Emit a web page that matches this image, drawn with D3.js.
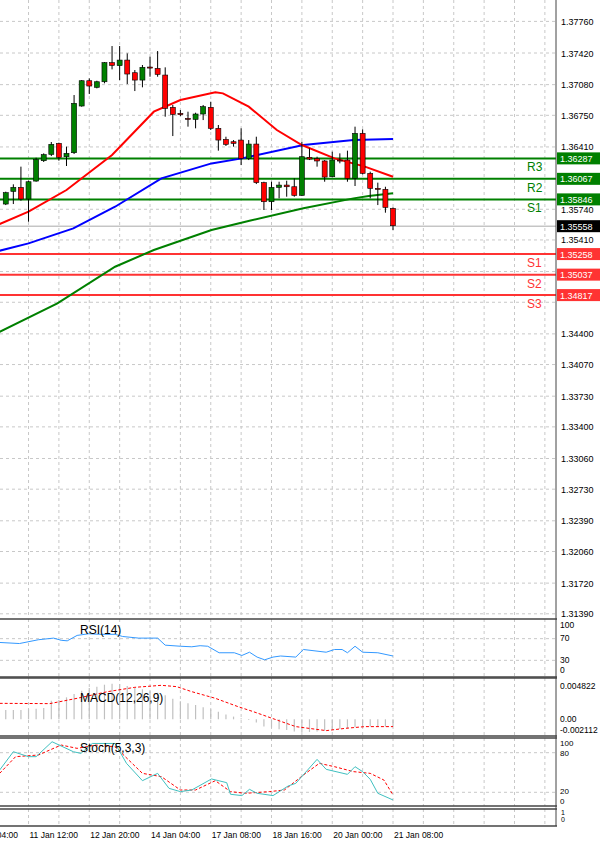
<!DOCTYPE html>
<html><head><meta charset="utf-8">
<script src="https://cdn.jsdelivr.net/npm/d3@7"></script>
<style>body{margin:0;background:#fff}svg{display:block;font-family:"Liberation Sans",Arial,sans-serif}</style>
</head><body><svg width="600" height="847"></svg>
<script>
// OHLC, H4 bars
var opens  = [1.35796,1.35932,1.35975,1.3585,1.36043,1.36262,1.3633,1.36448,1.36305,1.36348,1.3685,1.37122,1.37051,1.37111,1.37316,1.37284,1.37344,1.37208,1.37129,1.37269,1.37255,1.37183,1.36836,1.36771,1.36717,1.36706,1.36764,1.36836,1.3661,1.36491,1.36466,1.36484,1.36287,1.36441,1.36026,1.35821,1.35975,1.36,1.35982,1.35889,1.36298,1.36284,1.36259,1.3609,1.36269,1.36269,1.36072,1.36556,1.36126,1.35965,1.35954,1.35749];
var highs  = [1.35929,1.36008,1.36198,1.36047,1.36294,1.36341,1.36463,1.36456,1.36413,1.36968,1.37129,1.37147,1.37122,1.37323,1.37495,1.37495,1.37416,1.37237,1.37291,1.3738,1.37441,1.37266,1.36861,1.36807,1.36789,1.36778,1.36861,1.36896,1.36646,1.3652,1.36484,1.3661,1.36484,1.3652,1.36036,1.36036,1.36036,1.36047,1.36072,1.36466,1.36395,1.36305,1.36269,1.36359,1.36341,1.3637,1.36628,1.36599,1.36144,1.36026,1.35982,1.3576];
var lows   = [1.35785,1.35796,1.35832,1.35606,1.36036,1.36248,1.36312,1.36262,1.36205,1.36334,1.36843,1.36979,1.3704,1.37094,1.37244,1.37129,1.37086,1.37011,1.37051,1.37165,1.37165,1.36735,1.36527,1.36742,1.36628,1.3661,1.36699,1.36592,1.3637,1.3642,1.36413,1.36215,1.36269,1.36011,1.35732,1.35732,1.35857,1.35875,1.35875,1.35882,1.36269,1.36198,1.36036,1.36083,1.36234,1.36036,1.3599,1.36115,1.35857,1.35785,1.35703,1.35517];
var closes = [1.35918,1.35975,1.3585,1.36036,1.36276,1.36327,1.36438,1.36298,1.36341,1.36879,1.37122,1.37065,1.37111,1.37316,1.37287,1.37344,1.37194,1.37129,1.37266,1.37258,1.3719,1.36825,1.3676,1.36757,1.36706,1.36764,1.36843,1.3661,1.36484,1.36438,1.36448,1.36287,1.36441,1.36026,1.35821,1.35975,1.36,1.35982,1.35889,1.36305,1.3628,1.36259,1.36086,1.36269,1.36259,1.36072,1.36556,1.36126,1.35965,1.35954,1.3576,1.35563];

// moving averages (bar index, value)
var maRedIdx = [-0.8,3,8,14,19.5,23,27.6,28.6,32,35.7,39,43.3,47.3,51];
var maRedVal = [1.35581,1.35714,1.35947,1.36323,1.36789,1.36914,1.36997,1.36986,1.36843,1.36592,1.36431,1.36287,1.36198,1.3609];
var maBlueIdx = [-0.8,3,8.9,14.4,20.5,27.1,31.1,39.2,45.8,51];
var maBlueVal = [1.35294,1.35373,1.35534,1.35767,1.36072,1.36233,1.36287,1.36431,1.36484,1.36495];
var maGreenIdx = [-0.8,6.8,14.4,19.5,27.1,32.1,39.2,45.8,47.8,51];
var maGreenVal = [1.34423,1.34728,1.35122,1.35302,1.35517,1.35617,1.3575,1.35857,1.35882,1.35911];

var resistNames = ["R3","R2","S1"], resistVals = [1.36287,1.36067,1.35846];
var supportNames = ["S1","S2","S3"], supportVals = [1.35258,1.35037,1.34817];
var lastPrice = 1.35558;

var priceTicks = [1.3776,1.3742,1.3708,1.3675,1.3641,1.3607,1.3574,1.3541,1.3507,1.3474,1.344,1.3407,1.3373,1.334,1.3306,1.3273,1.3239,1.3206,1.3172,1.3139];

var rsiIdx = [-0.8,1.8,4.3,6.3,7.3,8.1,9.4,10.9,12.4,14.4,15.4,17.5,20,21,23,24.5,25.6,26.6,28.1,30.1,31.1,32.1,33.1,34.1,35.2,36.2,38.2,39.2,42.2,43.3,44.3,45,46,47,49,51];
var rsiVal = [63,61,68,71,67,66,76,79,78,78,74,71,71,58,56,55,57,56,44,44,39,45,36,31,36,38,36,50,45,50,50,44,56,45,44,38];

var macdHist = [0.00135,0.00135,0.00135,0.00145,0.00154,0.00164,0.0027,0.0028,0.00318,0.00366,0.00415,0.00453,0.00473,0.00501,0.00516,0.00511,0.00482,0.00453,0.00434,0.00405,0.00386,0.00347,0.00299,0.0026,0.00231,0.00207,0.00174,0.00145,0.00111,0.00068,0.00039,0.00014,-0.0001,-0.00048,-0.00106,-0.00121,-0.00145,-0.00154,-0.00178,-0.00183,-0.00183,-0.00178,-0.00164,-0.00154,-0.0014,-0.0013,-0.00116,-0.00106,-0.00106,-0.00106,-0.00106,-0.00106];
var macdSigIdx = [-0.8,5.8,9.4,13.4,17,20.5,22.5,24.5,27.6,30.6,32.6,35.7,38.2,42.2,44.8,47.3,51];
var macdSigVal = [0.00231,0.00227,0.00304,0.004,0.00463,0.00492,0.00473,0.004,0.00304,0.00183,0.00111,-0.0001,-0.00106,-0.00164,-0.0013,-0.00106,-0.00106];

var stochIdx = [-0.8,1,3,4,6.1,8.9,9.9,11.4,14.4,15.9,18,20,21.5,23,24.5,27.1,29.1,29.6,31.1,32.1,33.1,35.2,37.2,38.2,41,42.2,45,46,47,48,49,51];
var stochVal = [53.8,81.5,74,74,96.6,81.5,79,94,94,63.9,37.6,48.7,26,21,23.5,40.2,34.6,17,15,24.5,18.5,15,29.6,33.6,69.9,54.8,47.2,58.8,51.3,39.7,18.5,8.4];
var stochSigIdx = [-0.8,1.3,4.3,7.3,9.4,11.9,14.4,18,20.5,23,25,27.6,29.6,31.6,34.7,36.7,39.2,41.3,43.3,45.8,48,49.8,51];
var stochSigVal = [48.7,74,76.5,91.6,86.6,91.6,89,48.7,43.7,23.5,23.5,37.6,21,18.5,21,23.5,46.2,63.9,58.8,51.3,48.7,38.6,16];

var timeIdx = [-5,3,11,19,27,35,43,51];
var timeLabels = ["10 Jan 04:00","11 Jan 12:00","12 Jan 20:00","14 Jan 04:00","17 Jan 08:00","18 Jan 16:00","20 Jan 00:00","21 Jan 08:00"];

var svg = d3.select("svg"),
    axisX = 556,
    gridCol = "#c8c8c8",
    green = "#008000",
    red = "#ff3333";

var x = d3.scaleLinear().domain([0, 51]).range([5.75, 393]);
var y = d3.scaleLinear().domain([1.3799, 1.3139]).range([0, 613.8]);

// panels: [top, bottom]
var panels = [[0, 617], [619, 677], [678, 736], [738, 806], [809, 826]];

svg.append("defs").append("clipPath").attr("id", "plot")
    .append("rect").attr("width", axisX).attr("height", 847);

// vertical grid
var vgrid = d3.range(-1, 80, 4).filter(function (i) { return x(i) > 0 && x(i) < axisX; });
panels.forEach(function (p) {
    svg.append("g").selectAll("line").data(vgrid).enter().append("line")
        .attr("x1", x).attr("x2", x).attr("y1", p[0]).attr("y2", p[1])
        .attr("stroke", gridCol).attr("stroke-dasharray", "3,3");
});

var boxVals = resistVals.concat(supportVals).concat([lastPrice]);

// horizontal price grid + labels (labels under a box are hidden, as in the original)
svg.append("g").selectAll("line").data(priceTicks).enter().append("line")
    .attr("x1", 0).attr("x2", axisX).attr("y1", y).attr("y2", y)
    .attr("stroke", gridCol).attr("stroke-dasharray", "3,3");
svg.append("g").selectAll("text")
    .data(priceTicks.filter(function (t) {
        return boxVals.every(function (b) { return Math.abs(y(b) - y(t)) > 9; });
    }))
    .enter().append("text")
    .attr("x", 561).attr("y", function (d) { return y(d) + 3.5; })
    .attr("font-size", 9).attr("fill", "#000")
    .text(function (d) { return d.toFixed(5); });

var plot = svg.append("g").attr("clip-path", "url(#plot)");

// level lines
plot.selectAll(".res").data(resistVals).enter().append("line")
    .attr("x1", 0).attr("x2", axisX).attr("y1", y).attr("y2", y)
    .attr("stroke", green).attr("stroke-width", 2);
plot.selectAll(".sup").data(supportVals).enter().append("line")
    .attr("x1", 0).attr("x2", axisX).attr("y1", y).attr("y2", y)
    .attr("stroke", red).attr("stroke-width", 2);
plot.append("line").attr("x1", 0).attr("x2", axisX)
    .attr("y1", y(lastPrice)).attr("y2", y(lastPrice)).attr("stroke", "#aaa");

// moving averages
var maLine = function (idx, val) {
    return d3.line().x(function (d, i) { return x(idx[i]); }).y(function (d) { return y(d); })(val);
};
plot.append("path").attr("d", maLine(maGreenIdx, maGreenVal)).attr("fill", "none").attr("stroke", green).attr("stroke-width", 2);
plot.append("path").attr("d", maLine(maBlueIdx, maBlueVal)).attr("fill", "none").attr("stroke", "#0000ff").attr("stroke-width", 2);
plot.append("path").attr("d", maLine(maRedIdx, maRedVal)).attr("fill", "none").attr("stroke", "#ff0000").attr("stroke-width", 2);

// candles
var bars = plot.append("g").selectAll("g").data(opens).enter().append("g");
bars.append("line")
    .attr("x1", function (d, i) { return x(i); }).attr("x2", function (d, i) { return x(i); })
    .attr("y1", function (d, i) { return y(highs[i]); }).attr("y2", function (d, i) { return y(lows[i]); })
    .attr("stroke", "#000");
bars.append("rect")
    .attr("x", function (d, i) { return x(i) - 2.5; }).attr("width", 5)
    .attr("y", function (d, i) { return y(Math.max(d, closes[i])); })
    .attr("height", function (d, i) { return Math.max(1, Math.abs(y(d) - y(closes[i]))); })
    .attr("fill", function (d, i) { return closes[i] >= d ? green : "#ff0000"; })
    .attr("stroke", "#000").attr("stroke-width", 0.6);

// level labels
svg.append("g").selectAll("text").data(resistNames).enter().append("text")
    .attr("x", 527).attr("y", function (d, i) { return y(resistVals[i]) + 13; })
    .attr("font-size", 12).attr("fill", green).text(function (d) { return d; });
svg.append("g").selectAll("text").data(supportNames).enter().append("text")
    .attr("x", 527).attr("y", function (d, i) { return y(supportVals[i]) + 13; })
    .attr("font-size", 12).attr("fill", red).text(function (d) { return d; });

// axis value boxes
var boxes = resistVals.map(function (v) { return [v, green]; })
    .concat(supportVals.map(function (v) { return [v, red]; }))
    .concat([[lastPrice, "#000"]]);
var bx = svg.append("g").selectAll("g").data(boxes).enter().append("g");
bx.append("rect").attr("x", axisX + 1).attr("width", 43).attr("height", 12)
    .attr("y", function (d) { return y(d[0]) - 6; }).attr("fill", function (d) { return d[1]; });
bx.append("text").attr("x", 560).attr("y", function (d) { return y(d[0]) + 3.5; })
    .attr("font-size", 9).attr("fill", "#fff").text(function (d) { return d[0].toFixed(5); });

// RSI
var rsiY = d3.scaleLinear().domain([0, 100]).range([676.6, 622.4]);
[70, 30].forEach(function (v) {
    svg.append("line").attr("x1", 0).attr("x2", axisX).attr("y1", rsiY(v)).attr("y2", rsiY(v))
        .attr("stroke", gridCol).attr("stroke-dasharray", "3,3");
});
svg.append("path").attr("clip-path", "url(#plot)")
    .attr("d", d3.line().x(function (d, i) { return x(rsiIdx[i]); }).y(rsiY)(rsiVal))
    .attr("fill", "none").attr("stroke", "#3399ff").attr("stroke-width", 1);
var rsiLab = {100: 628, 70: 641, 30: 663, 0: 673};
svg.append("g").selectAll("text").data([100, 70, 30, 0]).enter().append("text")
    .attr("x", 560).attr("y", function (d) { return rsiLab[d]; }).attr("font-size", 8.5)
    .text(function (d) { return d; });
svg.append("text").attr("x", 80).attr("y", 634).attr("font-size", 12).text("RSI(14)");

// MACD
var macdY = d3.scaleLinear().domain([0, 0.004822]).range([719.3, 686]);
svg.append("g").attr("clip-path", "url(#plot)").selectAll("line").data(macdHist).enter().append("line")
    .attr("x1", function (d, i) { return x(i); }).attr("x2", function (d, i) { return x(i); })
    .attr("y1", macdY(0)).attr("y2", macdY).attr("stroke", "#c0c0c0").attr("stroke-width", 1.2);
svg.append("path").attr("clip-path", "url(#plot)")
    .attr("d", d3.line().x(function (d, i) { return x(macdSigIdx[i]); }).y(macdY)(macdSigVal))
    .attr("fill", "none").attr("stroke", "#ff0000").attr("stroke-dasharray", "3,2");
var macdLab = [[0.004822, 689], [0, 722], [-0.002112, 733]];
svg.append("g").selectAll("text").data(macdLab).enter().append("text")
    .attr("x", 560).attr("y", function (d) { return d[1]; }).attr("font-size", 8.5)
    .text(function (d) { return d[0] === 0 ? "0.00" : d[0].toFixed(6); });
svg.append("text").attr("x", 80).attr("y", 702).attr("font-size", 12).text("MACD(12,26,9)");

// Stochastic
var stY = d3.scaleLinear().domain([0, 100]).range([805.5, 739.5]);
[80, 20].forEach(function (v) {
    svg.append("line").attr("x1", 0).attr("x2", axisX).attr("y1", stY(v)).attr("y2", stY(v))
        .attr("stroke", gridCol).attr("stroke-dasharray", "3,3");
});
svg.append("path").attr("clip-path", "url(#plot)")
    .attr("d", d3.line().x(function (d, i) { return x(stochSigIdx[i]); }).y(stY)(stochSigVal))
    .attr("fill", "none").attr("stroke", "#ff0000").attr("stroke-dasharray", "3,2");
svg.append("path").attr("clip-path", "url(#plot)")
    .attr("d", d3.line().x(function (d, i) { return x(stochIdx[i]); }).y(stY)(stochVal))
    .attr("fill", "none").attr("stroke", "#40c0c0").attr("stroke-width", 1);
var stLab = {100: 746, 80: 756, 20: 794, 0: 803.5};
svg.append("g").selectAll("text").data([100, 80, 20, 0]).enter().append("text")
    .attr("x", 560).attr("y", function (d) { return stLab[d]; }).attr("font-size", 8)
    .text(function (d) { return d; });
svg.append("text").attr("x", 80).attr("y", 752).attr("font-size", 12).text("Stoch(5,3,3)");

// last tiny panel labels
svg.append("text").attr("x", 561).attr("y", 815).attr("font-size", 7).text("1");
svg.append("text").attr("x", 561).attr("y", 822).attr("font-size", 7).text("0");

// panel borders
panels.slice(1).forEach(function (p) {
    svg.append("line").attr("x1", 0).attr("x2", axisX + 1).attr("y1", p[0]).attr("y2", p[0]).attr("stroke", "#444").attr("stroke-width", 1.5);
    svg.append("line").attr("x1", 0).attr("x2", axisX + 1).attr("y1", p[1]).attr("y2", p[1]).attr("stroke", "#444").attr("stroke-width", 1.5);
});
svg.append("line").attr("x1", axisX).attr("x2", axisX).attr("y1", 0).attr("y2", 826).attr("stroke", "#444");

// time axis
svg.append("g").selectAll("text").data(timeLabels).enter().append("text")
    .attr("x", function (d, i) { return x(timeIdx[i]) + 1; }).attr("y", 838)
    .attr("font-size", 8.5).text(function (d) { return d; });
</script></body></html>
